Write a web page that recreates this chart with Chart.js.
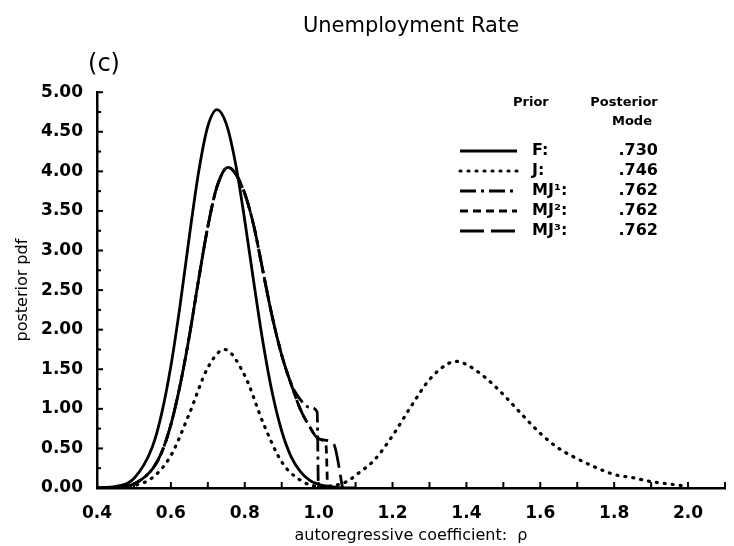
<!DOCTYPE html>
<html>
<head>
<meta charset="utf-8">
<script src="https://cdn.jsdelivr.net/npm/chart.js@4"></script>
<style>
  html, body { margin: 0; padding: 0; background: #fff; }
</style>
</head>
<body>
<canvas id="pdfChart" width="734" height="546"></canvas>
<script>
// posterior pdf of the autoregressive coefficient
const fX = [0.40, 0.45, 0.50, 0.55, 0.575, 0.60, 0.625, 0.65, 0.675, 0.70, 0.725, 0.75, 0.775, 0.80, 0.825, 0.85, 0.875, 0.90, 0.925, 0.95, 0.975, 1.00, 1.05, 1.10];
const fY = [0.002, 0.02, 0.12, 0.52, 0.94, 1.54, 2.31, 3.18, 3.99, 4.57, 4.78, 4.60, 4.10, 3.38, 2.58, 1.82, 1.19, 0.72, 0.40, 0.21, 0.10, 0.045, 0.007, 0.0];

const jX = [0.40, 0.45, 0.50, 0.55, 0.60, 0.65, 0.70, 0.745, 0.80, 0.85, 0.90, 0.95, 1.00, 1.05, 1.08, 1.10, 1.15, 1.20, 1.25, 1.30, 1.35, 1.375, 1.40, 1.45, 1.50, 1.55, 1.60, 1.65, 1.70, 1.75, 1.80, 1.85, 1.90, 1.95, 2.00];
const jY = [0.0, 0.004, 0.03, 0.13, 0.41, 0.94, 1.52, 1.75, 1.42, 0.82, 0.33, 0.10, 0.02, 0.04, 0.09, 0.16, 0.35, 0.66, 1.03, 1.37, 1.57, 1.60, 1.56, 1.40, 1.18, 0.93, 0.69, 0.50, 0.37, 0.26, 0.17, 0.13, 0.08, 0.05, 0.02];

// the three MJ curves share the same body and differ at the truncation near 1
const mjX = [0.40, 0.45, 0.50, 0.55, 0.575, 0.60, 0.625, 0.65, 0.675, 0.70, 0.725, 0.755, 0.775, 0.80, 0.825, 0.85, 0.875, 0.90, 0.925];
const mjY = [0.001, 0.008, 0.05, 0.24, 0.45, 0.80, 1.30, 1.92, 2.63, 3.30, 3.81, 4.05, 3.97, 3.72, 3.30, 2.72, 2.15, 1.68, 1.32];
const mj1TailX = [0.95, 0.975, 0.996, 0.999];
const mj1TailY = [1.12, 1.02, 0.96, 0.0];
const mj2TailX = [0.95, 0.975, 1.00, 1.02, 1.024];
const mj2TailY = [1.00, 0.78, 0.62, 0.53, 0.0];
const mj3TailX = [0.95, 0.975, 1.00, 1.04, 1.065];
const mj3TailY = [1.00, 0.78, 0.62, 0.56, 0.0];

const priorNames = ['F', 'J', 'MJ\u00b9', 'MJ\u00b2', 'MJ\u00b3'];
const priorModes = ['.730', '.746', '.762', '.762', '.762'];

const xTickValues = [0.4, 0.6, 0.8, 1.0, 1.2, 1.4, 1.6, 1.8, 2.0];
const yTickValues = [0, 0.5, 1, 1.5, 2, 2.5, 3, 3.5, 4, 4.5, 5];

function toPoints(xs, ys) {
    return xs.map((x, i) => ({ x: x, y: ys[i] }));
}

Chart.defaults.font.family = '"DejaVu Sans"';
Chart.defaults.color = '#000';

// inside tick marks, header, legend table and panel letter
const decorPlugin = {
    id: 'decor',
    afterDraw(chart) {
        const ctx = chart.ctx;
        const xs = chart.scales.x, ys = chart.scales.y;
        const area = chart.chartArea;
        ctx.save();
        ctx.strokeStyle = '#000';
        ctx.lineWidth = 2;
        for (let v = 0; v <= 5.001; v += 0.25) {
            const py = ys.getPixelForValue(v);
            ctx.beginPath();
            ctx.moveTo(area.left, py);
            ctx.lineTo(area.left + (Math.abs(v * 2 - Math.round(v * 2)) < 0.01 ? 6 : 4), py);
            ctx.stroke();
        }
        for (let v = 0.5; v <= 2.101; v += 0.1) {
            const px = xs.getPixelForValue(v);
            ctx.beginPath();
            ctx.moveTo(px, area.bottom);
            ctx.lineTo(px, area.bottom - 6);
            ctx.stroke();
        }

        ctx.fillStyle = '#000';
        ctx.textBaseline = 'middle';
        ctx.font = '24px "DejaVu Sans"';
        ctx.textAlign = 'center';
        ctx.fillText('(c)', 104, 65);

        ctx.font = 'bold 13px "DejaVu Sans"';
        ctx.textAlign = 'left';
        ctx.fillText('Prior', 513, 103);
        ctx.textAlign = 'center';
        ctx.fillText('Posterior', 624, 103);
        ctx.fillText('Mode', 632, 122);

        chart.data.datasets.forEach((ds, i) => {
            const y = 151 + i * 20;
            ctx.beginPath();
            ctx.setLineDash(ds.borderDash || []);
            ctx.lineCap = ds.borderCapStyle || 'butt';
            ctx.lineWidth = ds.borderWidth;
            ctx.moveTo(460, y);
            ctx.lineTo(517, y);
            ctx.stroke();
            ctx.setLineDash([]);
            ctx.font = 'bold 16px "DejaVu Sans"';
            ctx.textAlign = 'left';
            ctx.fillText(priorNames[i] + ':', 532, y);
            ctx.textAlign = 'right';
            ctx.fillText(priorModes[i], 658, y);
        });
        ctx.restore();
    }
};

const lineBase = {
    borderColor: '#000',
    borderWidth: 2.8,
    pointRadius: 0,
    fill: false,
    cubicInterpolationMode: 'monotone'
};

const data = {
    datasets: [
        Object.assign({}, lineBase, { label: priorNames[0], data: toPoints(fX, fY) }),
        Object.assign({}, lineBase, { label: priorNames[1], data: toPoints(jX, jY), borderDash: [1, 7], borderCapStyle: 'round', borderWidth: 3.2 }),
        Object.assign({}, lineBase, { label: priorNames[2], data: toPoints(mjX.concat(mj1TailX), mjY.concat(mj1TailY)), borderDash: [16, 5, 3, 5] }),
        Object.assign({}, lineBase, { label: priorNames[3], data: toPoints(mjX.concat(mj2TailX), mjY.concat(mj2TailY)), borderDash: [8, 5] }),
        Object.assign({}, lineBase, { label: priorNames[4], data: toPoints(mjX.concat(mj3TailX), mjY.concat(mj3TailY)), borderDash: [24, 7] })
    ]
};

const options = {
    responsive: false,
    animation: false,
    layout: { padding: { left: 0, right: 9, top: 0, bottom: 0 } },
    plugins: {
        legend: { display: false },
        tooltip: { enabled: false },
        title: {
            display: true,
            fullSize: false,
            text: 'Unemployment Rate',
            font: { size: 21, weight: 'normal' },
            padding: { top: 14, bottom: 53 }
        }
    },
    scales: {
        x: {
            type: 'linear',
            min: 0.4,
            max: 2.1,
            afterFit: s => { s.height = 58; },
            afterBuildTicks: s => { s.ticks = xTickValues.map(v => ({ value: v })); },
            grid: { display: false, drawTicks: false },
            border: { display: true, color: '#000', width: 2.5 },
            ticks: { padding: 15, font: { size: 17, weight: 'bold' }, callback: v => v.toFixed(1) },
            title: { display: true, text: 'autoregressive coefficient:  \u03c1', font: { size: 16 }, padding: { top: 0, bottom: 1 } }
        },
        y: {
            min: 0,
            max: 5,
            afterFit: s => { s.width = 97; },
            afterBuildTicks: s => { s.ticks = yTickValues.map(v => ({ value: v })); },
            grid: { display: false, drawTicks: false },
            border: { display: true, color: '#000', width: 2.5 },
            ticks: { padding: 14, font: { size: 17, weight: 'bold' }, callback: v => v.toFixed(2) },
            title: { display: true, text: 'posterior pdf', font: { size: 16 }, padding: { top: 13, bottom: 0 } }
        }
    }
};

const ctx = document.getElementById('pdfChart').getContext('2d');
new Chart(ctx, { type: 'line', data: data, options: options, plugins: [decorPlugin] });
</script>
</body>
</html>
